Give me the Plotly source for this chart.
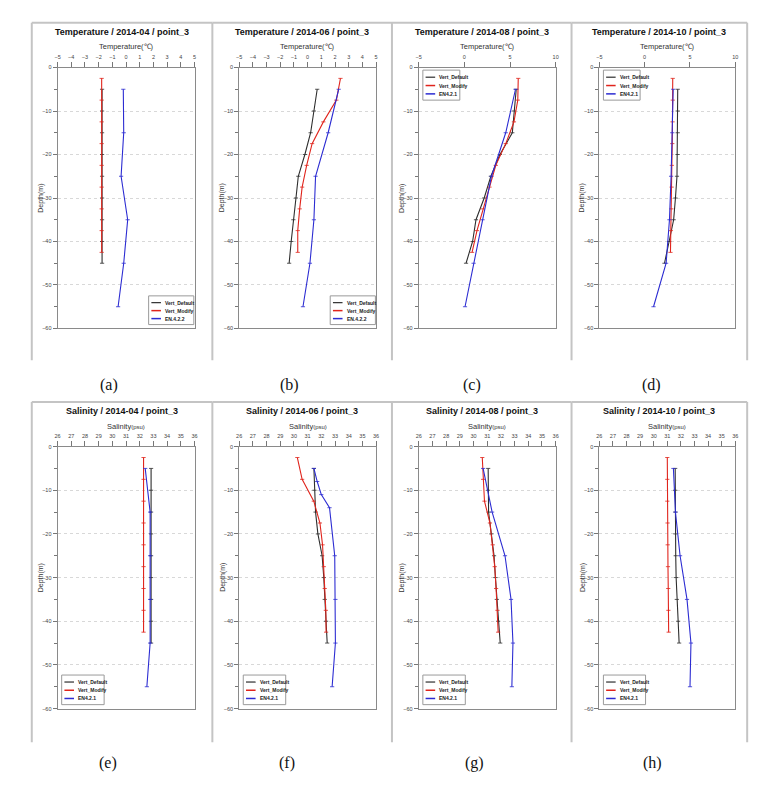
import plotly.graph_objects as go

W, H = 772, 786

# ---------------- data (depth in m) ----------------
DEF_DEPTH = [-5, -10, -15, -20, -25, -30, -35, -40, -45]
MOD_DEPTH = [-2.5, -7.5, -12.5, -17.5, -22.5, -27.5, -32.5, -37.5, -42.5]
EN_DEPTH = [-5, -15, -25, -35, -45, -55]
EN_DEPTH_S06 = [-5, -8, -11, -14, -25, -35, -45, -55]

# Temperature (deg C)
T04_DEF = [-1.75, -1.75, -1.75, -1.75, -1.75, -1.75, -1.75, -1.75, -1.75]
T04_MOD = [-1.78, -1.78, -1.78, -1.78, -1.78, -1.78, -1.78, -1.78, -1.78]
T04_EN = [-0.2, -0.17, -0.36, 0.12, -0.17, -0.58]

T06_DEF = [0.7, 0.46, 0.22, -0.2, -0.68, -0.85, -1.04, -1.2, -1.35]
T06_MOD = [2.4, 2.1, 1.15, 0.33, -0.07, -0.4, -0.58, -0.72, -0.72]
T06_EN = [2.27, 1.5, 0.58, 0.46, 0.17, -0.34]

T08_DEF = [5.68, 5.43, 5.25, 3.9, 2.9, 2.17, 1.27, 0.9, 0.18]
T08_MOD = [5.9, 5.85, 5.43, 4.53, 3.44, 2.75, 1.99, 1.38, 0.84]
T08_EN = [5.6, 4.53, 2.97, 1.99, 1.01, 0.07]

T10_DEF = [3.65, 3.65, 3.65, 3.63, 3.57, 3.4, 3.2, 2.7, 2.19]
T10_MOD = [3.1, 3.1, 3.08, 3.05, 3.0, 2.98, 2.95, 2.9, 2.85]
T10_EN = [3.15, 3.05, 2.92, 2.74, 2.37, 0.98]

# Salinity (psu)
S04_DEF = [32.83, 32.83, 32.83, 32.83, 32.83, 32.83, 32.83, 32.83, 32.83]
S04_MOD = [32.28, 32.28, 32.28, 32.28, 32.28, 32.28, 32.28, 32.28, 32.28]
S04_EN = [32.4, 32.76, 32.76, 32.76, 32.76, 32.52]

S06_DEF = [31.46, 31.5, 31.58, 31.75, 32.06, 32.18, 32.25, 32.35, 32.43]
S06_MOD = [30.25, 30.6, 31.45, 31.9, 32.09, 32.18, 32.25, 32.33, 32.35]
S06_EN = [31.46, 31.7, 32.0, 32.6, 32.98, 33.03, 33.03, 32.79]

S08_DEF = [31.07, 31.07, 31.1, 31.3, 31.5, 31.6, 31.7, 31.8, 31.95]
S08_MOD = [30.64, 30.7, 30.8, 31.2, 31.4, 31.55, 31.65, 31.75, 31.8]
S08_EN = [30.7, 31.36, 32.3, 32.74, 32.88, 32.8]

S10_DEF = [31.58, 31.58, 31.6, 31.6, 31.62, 31.65, 31.7, 31.8, 31.87]
S10_MOD = [31.0, 31.0, 31.0, 31.02, 31.03, 31.05, 31.07, 31.08, 31.1]
S10_EN = [31.45, 31.6, 31.94, 32.45, 32.74, 32.67]

MONTHS = ["2014-04", "2014-06", "2014-08", "2014-10"]
CAPTIONS = ["(a)", "(b)", "(c)", "(d)", "(e)", "(f)", "(g)", "(h)"]
T_TICKS_FINE = [-5, -4, -3, -2, -1, 0, 1, 2, 3, 4, 5]
T_TICKS_COARSE = [-5, 0, 5, 10]
S_TICKS = [26, 27, 28, 29, 30, 31, 32, 33, 34, 35, 36]
DEPTH_TICKS = [0, -10, -20, -30, -40, -50, -60]
DEPTH_MINOR = [-5, -15, -25, -35, -45, -55]
NAMES_A = ["Vert_Default", "Vert_Modify", "EN.4.2.2"]
NAMES_B = ["Vert_Default", "Vert_Modify", "EN4.2.1"]

# ---------------- styling / layout geometry ----------------
C_DEF, C_MOD, C_EN = "#2e2e2e", "#e0241c", "#2c2cd2"
COLS = [(55, 193), (238, 376), (419, 557), (601, 738)]
ROWS = [(65, 328), (447, 711)]
FRAME_X = [29, 211, 392, 573, 750]
FRAME_Y = [(20, 360), (402, 745)]
CAP_X = [[107, 289, 473, 654], [106, 286, 475, 655]]
CAP_Y = [385, 766]
NARROW = "Liberation Sans Narrow, Arial Narrow, Liberation Sans, Arial"


def fx(p):
    return p / W


def fy(p):
    return 1 - p / H


panels = [
    dict(defv=T04_DEF, modv=T04_MOD, env=T04_EN, end=EN_DEPTH, kind="T", xr=[-5, 5], xt=T_TICKS_FINE, names=NAMES_A, leg="br"),
    dict(defv=T06_DEF, modv=T06_MOD, env=T06_EN, end=EN_DEPTH, kind="T", xr=[-5, 5], xt=T_TICKS_FINE, names=NAMES_A, leg="br"),
    dict(defv=T08_DEF, modv=T08_MOD, env=T08_EN, end=EN_DEPTH, kind="T", xr=[-5, 10], xt=T_TICKS_COARSE, names=NAMES_B, leg="tl"),
    dict(defv=T10_DEF, modv=T10_MOD, env=T10_EN, end=EN_DEPTH, kind="T", xr=[-5, 10], xt=T_TICKS_COARSE, names=NAMES_B, leg="tl"),
    dict(defv=S04_DEF, modv=S04_MOD, env=S04_EN, end=EN_DEPTH, kind="S", xr=[26, 36], xt=S_TICKS, names=NAMES_B, leg="bl"),
    dict(defv=S06_DEF, modv=S06_MOD, env=S06_EN, end=EN_DEPTH_S06, kind="S", xr=[26, 36], xt=S_TICKS, names=NAMES_B, leg="bl"),
    dict(defv=S08_DEF, modv=S08_MOD, env=S08_EN, end=EN_DEPTH, kind="S", xr=[26, 36], xt=S_TICKS, names=NAMES_B, leg="bl"),
    dict(defv=S10_DEF, modv=S10_MOD, env=S10_EN, end=EN_DEPTH, kind="S", xr=[26, 36], xt=S_TICKS, names=NAMES_B, leg="bl"),
]

fig = go.Figure()
layout = dict(
    width=W, height=H, margin=dict(l=0, r=0, t=0, b=0),
    paper_bgcolor="white", plot_bgcolor="white", showlegend=False,
    font=dict(family="Liberation Sans, Arial", color="#333"),
)
annotations = []
shapes = []

for i, p in enumerate(panels):
    n = i + 1
    r, c = divmod(i, 4)
    xs = "x" if n == 1 else f"x{n}"
    ys = "y" if n == 1 else f"y{n}"
    for vals, dep, col in [(p["defv"], DEF_DEPTH, C_DEF), (p["modv"], MOD_DEPTH, C_MOD),
                           (p["env"], p["end"], C_EN)]:
        fig.add_trace(go.Scatter(
            x=vals, y=dep, xaxis=xs, yaxis=ys, mode="lines+markers",
            line=dict(color=col, width=1.1),
            marker=dict(symbol="line-ew", size=3, color=col, line=dict(color=col, width=0.8)),
            hoverinfo="skip"))
    c0, c1 = COLS[c]
    r0, r1 = ROWS[r]
    layout["xaxis" if n == 1 else f"xaxis{n}"] = dict(
        domain=[fx(c0), fx(c1)], range=p["xr"], side="top", anchor=ys,
        tickvals=p["xt"], ticks="outside", ticklen=5, tickwidth=1, tickcolor="#777",
        showline=True, linecolor="#8a8a8a", linewidth=1, mirror=True,
        showgrid=False, zeroline=False, fixedrange=True,
        tickfont=dict(size=5.5, color="#444"))
    layout["yaxis" if n == 1 else f"yaxis{n}"] = dict(
        domain=[fy(r1), fy(r0)], range=[-60, 0], anchor=xs,
        tickvals=DEPTH_TICKS, ticks="outside", ticklen=4, tickwidth=1, tickcolor="#777",
        showline=True, linecolor="#8a8a8a", linewidth=1, mirror=True,
        showgrid=True, gridcolor="#d8d8d8", griddash="dot", gridwidth=1, zeroline=False,
        minor=dict(tickvals=DEPTH_MINOR, ticks="outside", ticklen=3, tickcolor="#777", showgrid=False),
        tickfont=dict(size=5.5, color="#444"))

    # frames
    fx0 = FRAME_X[c]
    fx1 = FRAME_X[c + 1]
    fy0, fy1 = FRAME_Y[r]
    shapes.append(dict(type="line", xref="paper", yref="paper", x0=fx(fx0), x1=fx(fx0), y0=fy(fy0), y1=fy(fy1),
                       line=dict(color="#c4c4c4", width=2)))
    shapes.append(dict(type="line", xref="paper", yref="paper", x0=fx(fx0), x1=fx(fx1), y0=fy(fy0), y1=fy(fy0),
                       line=dict(color="#c4c4c4", width=2)))
    if c == 3:
        shapes.append(dict(type="line", xref="paper", yref="paper", x0=fx(fx1), x1=fx(fx1), y0=fy(fy0), y1=fy(fy1),
                           line=dict(color="#c4c4c4", width=2)))

    # titles
    title = ("Temperature" if p["kind"] == "T" else "Salinity") + f" / {MONTHS[c]} / point_3"
    annotations.append(dict(xref="paper", yref="paper", x=fx((fx0 + fx1) / 2), y=fy(fy0 + 9),
                            text=f"<b>{title}</b>", showarrow=False, xanchor="center", yanchor="middle",
                            font=dict(family=NARROW, size=9, color="#111")))
    if p["kind"] == "T":
        atxt = "Temperature(℃)"
        ay = r0 - 21
    else:
        atxt = "Salinity<span style='font-size:6px'>(psu)</span>"
        ay = r0 - 20
    annotations.append(dict(xref="paper", yref="paper", x=fx((c0 + c1) / 2), y=fy(ay),
                            text=atxt, showarrow=False, xanchor="center", yanchor="middle",
                            font=dict(family=NARROW, size=7.5, color="#333")))
    annotations.append(dict(xref="paper", yref="paper", x=fx(c0 - 17), y=fy((r0 + r1) / 2),
                            text="Depth(m)", showarrow=False, textangle=-90, xanchor="center", yanchor="middle",
                            font=dict(family=NARROW, size=7, color="#333")))
    annotations.append(dict(xref="paper", yref="paper", x=fx(CAP_X[r][c]), y=fy(CAP_Y[r]),
                            text=CAPTIONS[i], showarrow=False, xanchor="center", yanchor="middle",
                            font=dict(family="Liberation Serif, DejaVu Serif", size=16, color="#111")))

    # legend (drawn in subplot domain coordinates)
    xd = f"{xs} domain"
    yd = f"{ys} domain"
    if p["leg"] == "br":
        bx0, bx1, by0, by1 = 0.665, 0.995, 0.015, 0.125
    elif p["leg"] == "tl":
        bx0, bx1, by0, by1 = 0.03, 0.30, 0.875, 0.99
    else:
        bx0, bx1, by0, by1 = 0.03, 0.34, 0.015, 0.128
    shapes.append(dict(type="rect", xref=xd, yref=yd, x0=bx0, x1=bx1, y0=by0, y1=by1,
                       line=dict(color="#9a9a9a", width=1), fillcolor="white", layer="above"))
    rh = (by1 - by0) / 3.6
    for k, (nm, col) in enumerate(zip(p["names"], [C_DEF, C_MOD, C_EN])):
        yy = by1 - rh * (0.85 + k)
        shapes.append(dict(type="line", xref=xd, yref=yd, x0=bx0 + 0.02, x1=bx0 + 0.09, y0=yy, y1=yy,
                           line=dict(color=col, width=1.5 if k else 1.2), layer="above"))
        annotations.append(dict(xref=xd, yref=yd, x=bx0 + 0.105, y=yy, text=f"<b>{nm}</b>", showarrow=False,
                                xanchor="left", yanchor="middle",
                                font=dict(family=NARROW, size=5, color="#222")))

layout["annotations"] = annotations
layout["shapes"] = shapes
fig.update_layout(**layout)
fig.write_html("out.html", config={"displayModeBar": False},
               post_script="document.body.style.margin='0';document.body.style.overflow='hidden';")
